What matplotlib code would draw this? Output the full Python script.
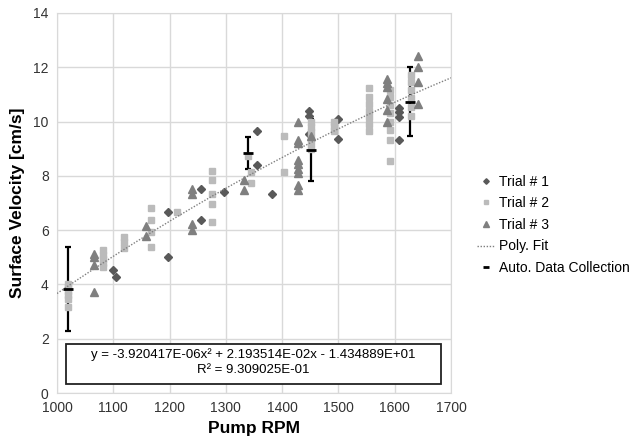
import numpy as np
import matplotlib
matplotlib.use("Agg")
import matplotlib.pyplot as plt
from matplotlib.patches import Rectangle

plt.rcParams['font.family'] = ['Liberation Sans', 'DejaVu Sans']

# Trial # 1 (diamonds)
t1_rpm = [1100, 1105, 1198, 1198, 1256, 1256, 1296, 1355, 1355, 1382,
          1448, 1448, 1448, 1499, 1499, 1608, 1608, 1608, 1608]
t1_vel = [4.54, 4.27, 6.68, 5.00, 7.50, 6.37, 7.40, 9.67, 8.40, 7.32,
          10.38, 10.20, 9.55, 10.08, 9.35, 10.49, 10.36, 10.15, 9.33]

# Trial # 2 (squares)
t2_rpm = [1020, 1020, 1020, 1020, 1020, 1020,
          1082, 1082, 1082, 1082, 1082,
          1119, 1119, 1119,
          1167, 1167, 1167, 1167,
          1214,
          1276, 1276, 1276, 1276, 1276,
          1339, 1344, 1344,
          1403, 1403,
          1452, 1452, 1452, 1452, 1452, 1452,
          1493, 1493, 1493,
          1554, 1554, 1554, 1554, 1554, 1554, 1554,
          1592, 1592, 1592, 1592, 1592, 1592, 1592, 1592,
          1629, 1629, 1629, 1629, 1629, 1629]
t2_vel = [3.18, 3.45, 3.60, 3.75, 3.90, 4.02,
          4.65, 4.80, 4.95, 5.10, 5.28,
          5.35, 5.55, 5.75,
          6.82, 6.37, 5.93, 5.39,
          6.66,
          8.19, 7.83, 7.33, 6.96, 6.29,
          8.74, 8.14, 7.74,
          9.45, 8.15,
          9.00, 9.20, 9.40, 9.60, 9.80, 10.00,
          10.00, 9.85, 9.67,
          11.25, 10.90, 10.65, 10.40, 10.15, 9.90, 9.65,
          11.15, 10.90, 10.60, 10.30, 10.00, 9.70, 9.32, 8.55,
          11.72, 11.45, 11.15, 10.85, 10.55, 10.20]

# Trial # 3 (triangles)
t3_rpm = [1066, 1066, 1066, 1066, 1158, 1158, 1239, 1239, 1239, 1239,
          1332, 1332,
          1428, 1428, 1428, 1428, 1428, 1428, 1428, 1428, 1428,
          1452,
          1587, 1587, 1587, 1587, 1587, 1587,
          1642, 1642, 1642, 1642]
t3_vel = [5.12, 5.00, 4.72, 3.73, 6.15, 5.80, 7.52, 7.33, 6.24, 6.02,
          7.83, 7.48,
          9.97, 9.33, 9.22, 8.58, 8.42, 8.26, 8.09, 7.66, 7.48,
          9.48,
          11.58, 11.43, 11.28, 10.84, 10.41, 9.98,
          12.40, 12.01, 11.44, 10.64]

# Auto. Data Collection (mean and error)
auto_rpm = [1020, 1339, 1452, 1628]
auto_vel = [3.83, 8.85, 8.95, 10.73]
auto_err = [1.55, 0.58, 1.15, 1.27]

# Poly. Fit coefficients (from the chart)
fit_coef = [-3.920417e-06, 2.193514e-02, -1.434889e+01]
eq_line = "y = -3.920417E-06x² + 2.193514E-02x - 1.434889E+01"
r2_line = "R² = 9.309025E-01"

fig = plt.figure(figsize=(6.39, 4.40), dpi=100)
ax = fig.add_axes([0.0892, 0.1068, 0.6166, 0.8637])

ax.errorbar(auto_rpm, auto_vel, yerr=auto_err, fmt='none', ecolor='black',
            elinewidth=1.6, capsize=2, capthick=1.6, zorder=2)
ax.plot(t1_rpm, t1_vel, 'D', color='#595959', markersize=4, linestyle='none',
        label='Trial # 1', zorder=3)
ax.plot(t2_rpm, t2_vel, 's', color='#BBBBBB', markersize=5, linestyle='none',
        label='Trial # 2', zorder=3)
ax.plot(t3_rpm, t3_vel, '^', color='#7F7F7F', markersize=5.5, linestyle='none',
        label='Trial # 3', zorder=3)

xs = np.linspace(1000, 1700, 200)
ax.plot(xs, np.polyval(fit_coef, xs), linestyle=(0, (1, 1.2)), color='#7F7F7F',
        linewidth=1, label='Poly. Fit', zorder=4)
ax.plot(auto_rpm, auto_vel, '_', color='black', markersize=7, markeredgewidth=2,
        linestyle='none', label='Auto. Data Collection', zorder=5)

ax.set_xlim(1000, 1700)
ax.set_ylim(0, 14)
ax.set_xticks(range(1000, 1701, 100))
ax.set_yticks(range(0, 15, 2))
ax.grid(True, color='#D9D9D9', linewidth=1)
ax.set_axisbelow(True)
for s in ax.spines.values():
    s.set_color('#D9D9D9')
ax.tick_params(length=0, labelsize=10, colors='#333333', pad=6)

ax.set_xlabel('Pump RPM', fontsize=12.5, fontweight='bold', labelpad=4)
ax.set_ylabel('Surface Velocity [cm/s]', fontsize=12.5, fontweight='bold', labelpad=6)

# equation box
ax.add_patch(Rectangle((1016, 0.33), 666, 1.47, facecolor='white',
                       edgecolor='#222222', linewidth=1.3, zorder=6))
ax.text(1348, 1.40, eq_line, ha='center', va='center', fontsize=9.5, zorder=7)
ax.text(1348, 0.85, r2_line, ha='center', va='center', fontsize=9.5, zorder=7)

leg = ax.legend(loc='center left', bbox_to_anchor=(1.035, 0.4425), frameon=False,
                fontsize=10, handlelength=1.3, handletextpad=0.25, labelspacing=0.55,
                markerscale=0.7)

fig.savefig('out.png', dpi=100)
